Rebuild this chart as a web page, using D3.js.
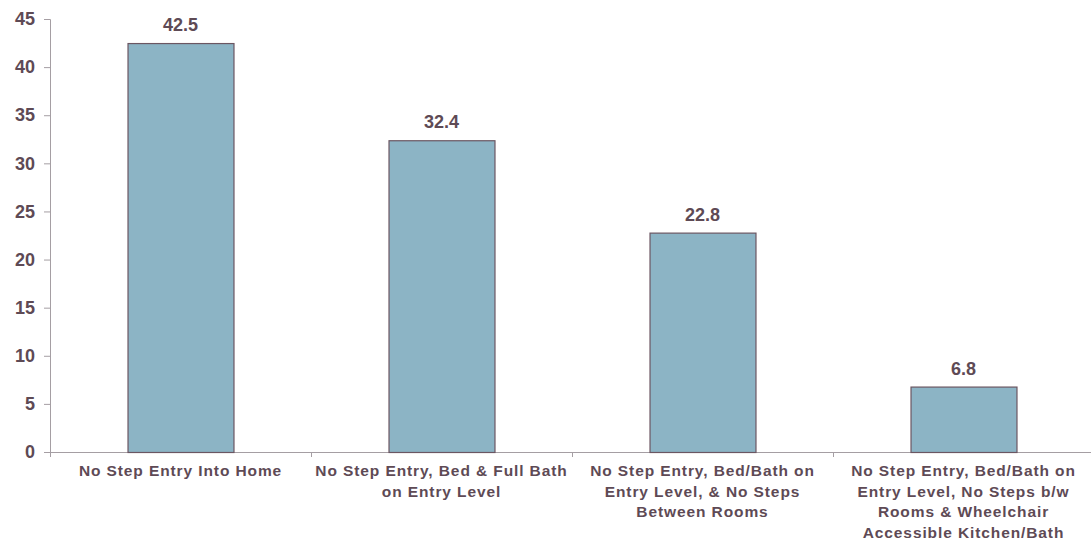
<!DOCTYPE html>
<html>
<head>
<meta charset="utf-8">
<script src="https://cdn.jsdelivr.net/npm/d3@7"></script>
<style>
  html, body { margin: 0; padding: 0; background: #fff; }
  svg { display: block; }
</style>
</head>
<body>
<svg id="chart" width="1091" height="541"></svg>
<script>
// Accessibility features present in homes (share, %)
const categories = [
  ["No Step Entry Into Home"],
  ["No Step Entry, Bed & Full Bath", "on Entry Level"],
  ["No Step Entry, Bed/Bath on", "Entry Level, & No Steps", "Between Rooms"],
  ["No Step Entry, Bed/Bath on", "Entry Level, No Steps b/w", "Rooms & Wheelchair", "Accessible Kitchen/Bath"]
];
const values = [42.5, 32.4, 22.8, 6.8];
const yTicks = [0, 5, 10, 15, 20, 25, 30, 35, 40, 45];

const textColor = "#5e4a55";
const axisColor = "#a59ea3";
const barFill = "#8cb4c5";
const barStroke = "#6b5662";

const svg = d3.select("#chart");
const margin = { top: 19, right: 0, bottom: 89, left: 50 };
const width = 1091 - margin.left - margin.right;
const height = 541 - margin.top - margin.bottom;
const bandSpan = 1044;

const g = svg.append("g").attr("transform", `translate(${margin.left},${margin.top})`);

const x = d3.scaleBand()
  .domain(d3.range(categories.length))
  .range([0, bandSpan])
  .paddingInner(0.594)
  .paddingOuter(0.297);

const y = d3.scaleLinear().domain([0, 45]).range([height, 0]);

// Y axis
const yAxis = g.append("g")
  .call(d3.axisLeft(y).tickValues(yTicks).tickSize(6).tickPadding(9));
yAxis.select(".domain").attr("stroke", axisColor).attr("d", `M-6,0.5H0.5V${height + 5}`);
yAxis.selectAll(".tick line").attr("stroke", axisColor);
yAxis.selectAll(".tick text")
  .attr("fill", textColor)
  .style("font-family", "Liberation Sans, Arial, sans-serif")
  .style("font-weight", "bold")
  .style("font-size", "18px");

// X axis baseline with ticks at category boundaries
const step = x.step();
g.append("line")
  .attr("x1", 0).attr("x2", width)
  .attr("y1", height + 0.5).attr("y2", height + 0.5)
  .attr("stroke", axisColor);
g.selectAll(".xtick")
  .data(d3.range(categories.length))
  .join("line")
  .attr("class", "xtick")
  .attr("x1", i => Math.round(i * step) + 0.5)
  .attr("x2", i => Math.round(i * step) + 0.5)
  .attr("y1", height)
  .attr("y2", height + 5)
  .attr("stroke", axisColor);

// Bars
g.selectAll(".bar")
  .data(values)
  .join("rect")
  .attr("class", "bar")
  .attr("x", (d, i) => x(i) + 0.5)
  .attr("y", d => y(d) + 0.5)
  .attr("width", x.bandwidth())
  .attr("height", d => height - y(d))
  .attr("fill", barFill)
  .attr("stroke", barStroke)
  .attr("stroke-width", 1.2);

// Value labels
g.selectAll(".val")
  .data(values)
  .join("text")
  .attr("class", "val")
  .attr("x", (d, i) => x(i) + x.bandwidth() / 2)
  .attr("y", d => y(d) - 12)
  .attr("text-anchor", "middle")
  .attr("fill", textColor)
  .style("font-family", "Liberation Sans, Arial, sans-serif")
  .style("font-weight", "bold")
  .style("font-size", "18px")
  .text(d => d.toFixed(1));

// Category labels
const labels = g.selectAll(".cat")
  .data(categories)
  .join("text")
  .attr("class", "cat")
  .attr("text-anchor", "middle")
  .attr("fill", textColor)
  .style("font-family", "Liberation Sans, Arial, sans-serif")
  .style("font-weight", "bold")
  .style("font-size", "15.5px")
  .style("letter-spacing", "0.9px")
  .attr("transform", (d, i) => `translate(${x(i) + x.bandwidth() / 2},${height + 24})`);
labels.selectAll("tspan")
  .data(d => d)
  .join("tspan")
  .attr("x", 0)
  .attr("dy", (d, j) => j === 0 ? 0 : 20.5)
  .text(d => d);
</script>
</body>
</html>
